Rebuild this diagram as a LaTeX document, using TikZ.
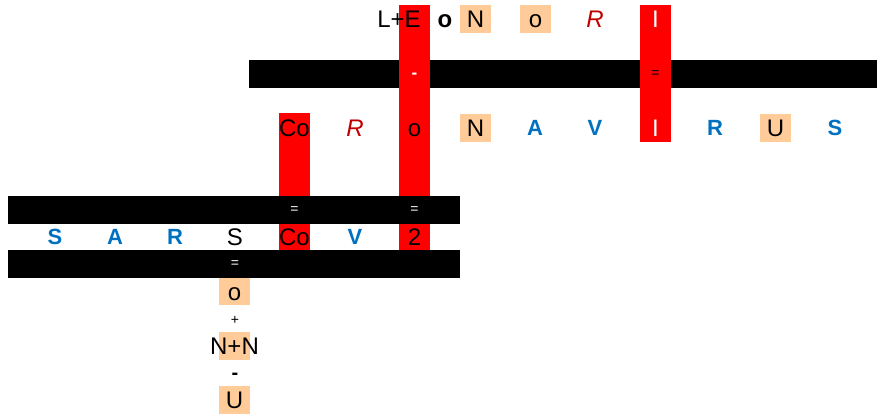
\documentclass[tikz,border=0pt]{standalone}
\usepackage{fontspec}
\setmainfont{Liberation Sans}
\usetikzlibrary{positioning}
\definecolor{peach}{HTML}{FFCC99}
\definecolor{letterblue}{HTML}{0070C0}
\definecolor{darkred}{HTML}{C00000}

\begin{document}
\begin{tikzpicture}[
    x=1pt, y=-1pt,
    every node/.style={inner sep=0pt, font=\fontsize{24}{24}\selectfont},
    cell/.style={minimum width=31pt, minimum height=28pt,
        text height=17.2pt, text depth=0pt},
    peachcell/.style={cell, fill=peach},
    redcol/.style={fill=red, minimum width=31pt},
    bar/.style={fill=black, minimum height=28pt},
    blueletter/.style={cell, text=letterblue, text height=15.8pt,
        font=\fontsize{22}{22}\selectfont\bfseries},
    redletter/.style={cell, text=darkred,
        font=\fontsize{24}{24}\selectfont\itshape},
    whiteletter/.style={cell, text=white},
    tinysym/.style={font=\fontsize{14}{14}\selectfont},
]
\useasboundingbox (0,0) rectangle (877,416);

% =====================================================================
%  Bars and red columns
% =====================================================================
\node[bar, minimum width=628pt] (barTop) at (563,74) {};

\node[redcol, minimum height=137pt] (colCo) at (294.5,181.5) {};
\node[redcol, minimum height=245pt] (colE)  at (414.5,127.5) {};
\node[redcol, minimum height=137pt] (colI)  at (655.5,73.5) {};

\node[bar, minimum width=452pt] (barMid) at (234,210) {};
\node[bar, minimum width=452pt] (barLow) at (234,264) {};

% =====================================================================
%  Top row
% =====================================================================
\node[cell] (le) at (399,19) {L+E};
\node[cell, font=\fontsize{24}{24}\selectfont\bfseries] (oTop) at (445,19) {o};
\node[peachcell] (nTop) at (475.5,19) {N};
\node[peachcell] (oTopB) at (535.5,19) {o};
\node[redletter] (rTop) at (595,19) {R};
\node[whiteletter] (iTop) at (655.5,19) {I};

% symbols on the top bar
\node[text=white, font=\fontsize{17}{17}\selectfont\bfseries]
    (minusTop) at (414.5,76) {-};
\node[tinysym] (eqTop) at (655.5,74) {=};

% =====================================================================
%  Middle row:  CoRoNAVIRUS
% =====================================================================
\node[cell] (coMid) at (294.5,128) {Co};
\node[redletter] (rMid) at (355,128) {R};
\node[cell] (oMid) at (414.5,128) {o};
\node[peachcell] (nMid) at (475.5,128) {N};
\node[blueletter] (aMid) at (535,128) {A};
\node[blueletter] (vMid) at (595,128) {V};
\node[whiteletter] (iMid) at (655.5,128) {I};
\node[blueletter] (rMidB) at (715,128) {R};
\node[peachcell] (uMid) at (775.5,128) {U};
\node[blueletter] (sMid) at (835,128) {S};

% symbols on the middle bar
\node[tinysym, text=white] (eqCo) at (294.5,210) {=};
\node[tinysym, text=white] (eqE)  at (414.5,210) {=};

% =====================================================================
%  Lower row:  SARS-CoV-2
% =====================================================================
\node[blueletter] (sLow) at (55,237) {S};
\node[blueletter] (aLow) at (115,237) {A};
\node[blueletter] (rLow) at (175,237) {R};
\node[cell] (sLowB) at (235,237) {S};
\node[cell] (coLow) at (294.5,237) {Co};
\node[blueletter] (vLow) at (355,237) {V};
\node[cell] (twoLow) at (414.5,237) {2};

% symbol on the lower bar
\node[tinysym, text=white] (eqS) at (235,264) {=};

% =====================================================================
%  Column below S
% =====================================================================
\node[peachcell, minimum height=27pt] (oCol) at (234.5,291.5) {o};
\node[tinysym] (plusCol) at (235,320) {+};
\node[peachcell] (nnBox) at (234.5,346) {};
\node[cell] (nnCol) at (nnBox) {N+N};
\node[font=\fontsize{20}{20}\selectfont\bfseries] (minusCol) at (235,376) {-};
\node[peachcell] (uCol) at (234.5,400) {U};

\end{tikzpicture}
\end{document}
